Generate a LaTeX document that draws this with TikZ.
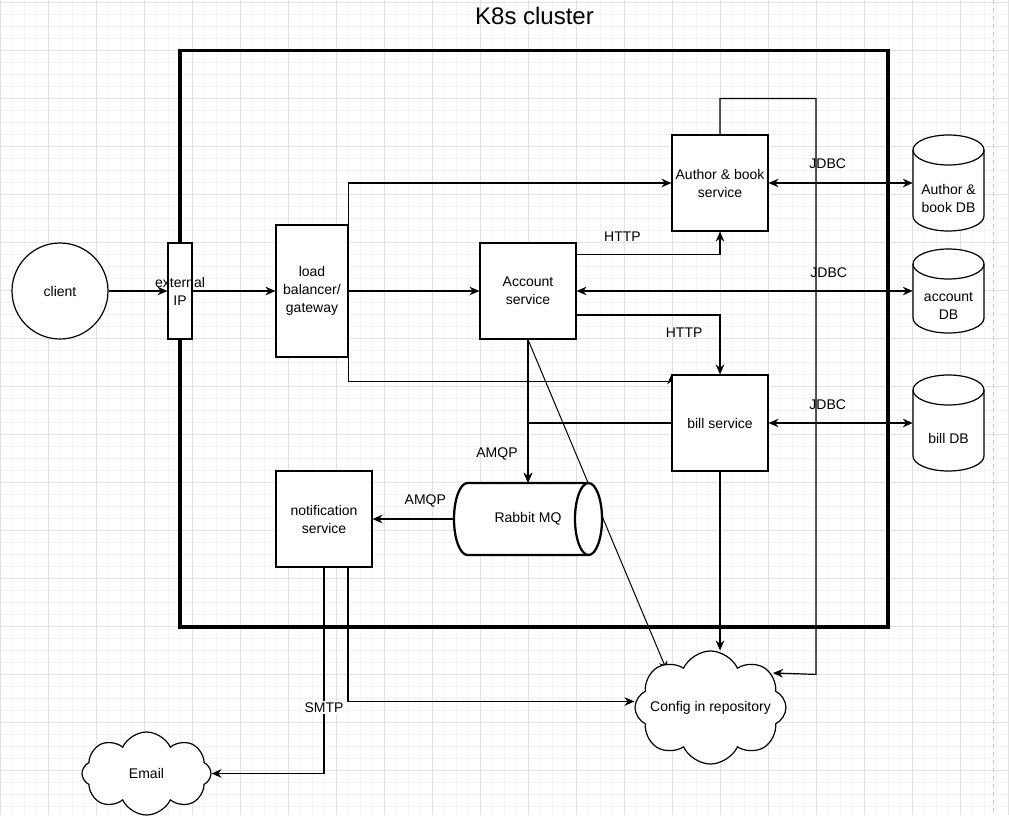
\documentclass[tikz,border=0pt]{standalone}
\usepackage{fontspec}
\setmainfont{Liberation Sans}
\usetikzlibrary{arrows.meta,shapes.symbols,backgrounds}
\definecolor{gridminor}{RGB}{243,243,243}
\definecolor{gridmajor}{RGB}{225,225,225}
\begin{document}
\begin{tikzpicture}[x=0.75pt,y=-0.75pt,
    font=\fontsize{10.5}{13.5}\selectfont,
    box/.style={draw,fill=white,line width=0.9pt,minimum width=72pt,minimum height=72pt,inner sep=0pt,align=center},
    dbstore/.style={minimum width=53.25pt,minimum height=72pt,inner sep=0pt},
    netcloud/.style={cloud,cloud puffs=8,cloud puff arc=130,cloud ignores aspect,draw,fill=white,line width=0.9pt,inner sep=0pt},
    conn/.style={line width=0.9pt,-{Stealth[length=7.5pt,width=6.5pt,inset=2.5pt]}},
    bothconn/.style={line width=0.9pt,{Stealth[length=7.5pt,width=6.5pt,inset=2.5pt]}-{Stealth[length=7.5pt,width=6.5pt,inset=2.5pt]}},
    proto/.style={inner sep=1pt}]
    \useasboundingbox (0,0) rectangle (1009,818);
    \begin{pgfonlayer}{background}
    \foreach \gx in {0,12,...,1008} \draw[gridminor,line width=0.75pt] (\gx,0) -- (\gx,815);
    \foreach \gy in {2,14,...,806} \draw[gridminor,line width=0.75pt] (0,\gy) -- (1009,\gy);
    \foreach \gx in {0,48,...,1008} \draw[gridmajor,line width=0.75pt] (\gx,0) -- (\gx,815);
    \foreach \gy in {2,50,...,770} \draw[gridmajor,line width=0.75pt] (0,\gy) -- (1009,\gy);
    \draw[gray!45,dashed,line width=0.75pt] (993,0) -- (993,815);
    \end{pgfonlayer}
    \node[font=\fontsize{18}{22}\selectfont] (title) at (534.5,15.5) {K8s cluster};
    \node[draw,line width=2.4pt,minimum width=531pt,minimum height=432.4pt] (k8s) at (534,338.75) {};
    \foreach \ty/\by in {150/216,264/318,390/456} {
        \filldraw[fill=white,line width=0.9pt] (913,\ty) -- (913,\by) arc[start angle=180,end angle=0,x radius=35.5,y radius=15] -- (984,\ty) arc[start angle=0,end angle=-180,x radius=35.5,y radius=15] -- cycle;
        \draw[line width=0.9pt] (913,\ty) arc[start angle=180,end angle=0,x radius=35.5,y radius=15];
    }
    \filldraw[fill=white,line width=1.7pt] (467.5,483) -- (588.5,483) arc[start angle=-90,end angle=90,x radius=13.5,y radius=36] -- (467.5,555) arc[start angle=90,end angle=270,x radius=13.5,y radius=36] -- cycle;
    \draw[line width=1.7pt] (588.5,483) arc[start angle=-90,end angle=-270,x radius=13.5,y radius=36];
    \node[box,circle,minimum size=72pt] (client) at (60,291) {client};
    \node[box,minimum width=18pt,label={[align=center]center:external\\IP}] (extip) at (180,291) {};
    \node[box,minimum width=54pt,minimum height=99pt] (lb) at (312,291) {load\\balancer/\\gateway};
    \node[box] (acc) at (528,291) {Account\\service};
    \node[box] (abs) at (720,183) {Author \& book\\service};
    \node[box] (bill) at (720,423) {bill service};
    \node[box] (notif) at (324,519) {notification\\service};
    \node[minimum width=111pt,minimum height=54pt,inner sep=0pt] (rmq) at (528,519) {Rabbit MQ};
    \node[dbstore,label={[align=center,yshift=-11.5pt]center:Author \&\\book DB}] (adb) at (948.5,183) {};
    \node[dbstore,minimum height=63pt,label={[align=center,yshift=-11.5pt]center:account\\DB}] (accdb) at (948.5,291) {};
    \node[dbstore,label={[yshift=-11.5pt]center:bill DB}] (billdb) at (948.5,423) {};
    \node[netcloud,minimum width=113.25pt,minimum height=84.75pt,label={center:Config in repository}] (cfg) at (710.5,707.5) {};
    \node[netcloud,minimum width=96.75pt,minimum height=62.25pt,label={center:Email}] (email) at (146.5,773.5) {};
    \begin{pgfonlayer}{background}
    \draw[conn] (client) -- (extip);
    \draw[conn] (extip) -- (lb);
    \draw[conn] (lb) -- (acc);
    \draw[conn] (lb.north east) |- (abs);
    \draw[conn] (lb.south east) -- ++(0,24) -| (bill.north west);
    \draw[conn] ([yshift=-9pt]acc.north east) -| node[proto,pos=0.16,yshift=13.5pt] {HTTP} (abs);
    \draw[conn] ([yshift=-18pt]acc.east) -| node[proto,pos=0.375,yshift=-13.5pt] {HTTP} (bill);
    \draw[bothconn] (abs) -- node[proto,pos=0.41,yshift=14.25pt] {JDBC} (adb);
    \draw[bothconn] (acc) -- node[proto,pos=0.75,yshift=13.5pt] {JDBC} (accdb);
    \draw[bothconn] (bill) -- node[proto,pos=0.41,yshift=13.5pt] {JDBC} (billdb);
    \draw[conn] (acc) -- node[proto,pos=0.8,xshift=-23.25pt] {AMQP} (rmq);
    \draw[conn] (bill) -| (rmq);
    \draw[conn] (rmq) -- node[proto,pos=0.35,yshift=13.5pt] {AMQP} (notif);
    \draw[conn] (notif) |- node[proto,pos=0.34,fill=white] {SMTP} (email);
    \draw[conn] ([xshift=18pt]notif.south) |- ([yshift=4.5pt]cfg.west);
    \draw[conn,line width=0.75pt] (acc.south) -- ([xshift=-32.6pt,yshift=27.4pt]cfg.center);
    \draw[conn] (bill) -- (bill.south |- cfg.north);
    \draw[conn] (abs.north) -- ++(0,-36) -| ++(96,576) -- ([xshift=46.9pt,yshift=25.9pt]cfg.center);
    \end{pgfonlayer}
\end{tikzpicture}
\end{document}
